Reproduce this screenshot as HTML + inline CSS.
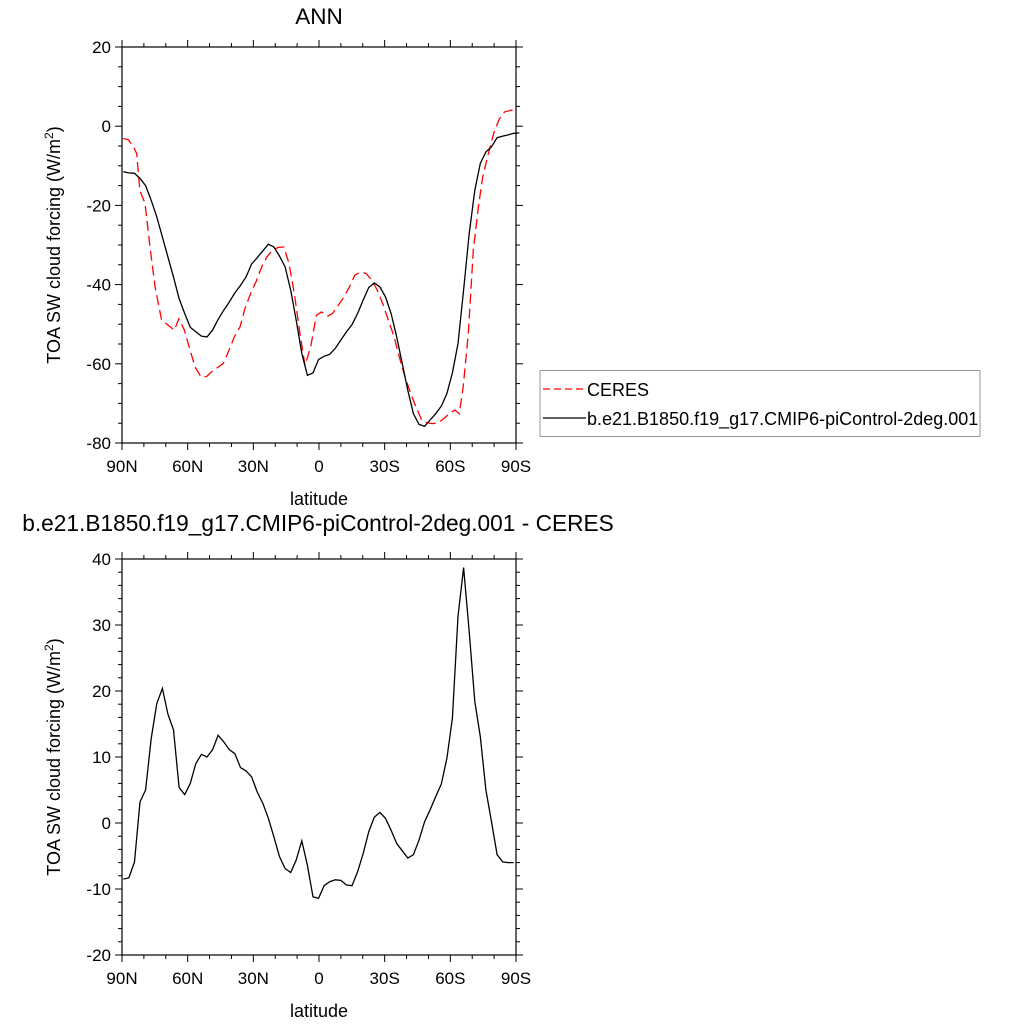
<!DOCTYPE html>
<html><head><meta charset="utf-8">
<style>
html,body{margin:0;padding:0;background:#fff;}
svg{display:block;font-family:"Liberation Sans",sans-serif;}
</style></head>
<body>
<svg id="chart" width="1024" height="1024" viewBox="0 0 1024 1024" xmlns="http://www.w3.org/2000/svg">
<text x="319" y="24" font-size="22.5" text-anchor="middle">ANN</text>
<text x="318" y="531" font-size="22.7" text-anchor="middle">b.e21.B1850.f19_g17.CMIP6-piControl-2deg.001 - CERES</text>
<g id="top"></g>
<g id="bot"></g>
<g>
<rect x="540" y="370.5" width="440" height="66" fill="#fff" stroke="#999" stroke-width="1"/>
<line x1="543" y1="389" x2="586" y2="389" stroke="#f00" stroke-width="1.3" stroke-dasharray="7,4"/>
<text x="587" y="396" font-size="18">CERES</text>
<line x1="543" y1="418" x2="586" y2="418" stroke="#000" stroke-width="1.3"/>
<text x="587" y="425" font-size="18">b.e21.B1850.f19_g17.CMIP6-piControl-2deg.001</text>
</g>
</svg>
<script>
const modelVals = [-11.5,-11.8,-11.9,-13.2,-15.0,-18.7,-22.9,-28.0,-33.0,-38.1,-43.5,-47.3,-50.8,-51.9,-53.0,-53.2,-51.5,-48.8,-46.5,-44.4,-42.1,-40.2,-38.1,-34.8,-33.2,-31.5,-29.8,-30.5,-32.8,-35.5,-41.4,-49.0,-57.4,-62.9,-62.3,-58.9,-58.1,
-57.6,-56.1,-54.0,-51.9,-50.1,-47.3,-43.9,-40.7,-39.6,-40.6,-43.1,-47.3,-53.2,-59.9,-66.7,-72.6,-75.3,-75.8,-74.2,-72.6,-70.7,-67.5,-62.3,-54.9,-41.4,-27.1,-16.2,-9.4,-6.5,-5.2,-2.9,-2.5,-2.2,-1.8,-1.7];
const diffVals = [-8.5,-8.3,-5.9,3.2,5.0,12.8,18.1,20.4,16.5,14.1,5.4,4.3,6.0,9.0,10.4,10.0,11.1,13.3,12.3,11.1,10.5,8.4,7.9,7.0,4.7,3.0,0.7,-2.1,-5.1,-6.9,-7.5,-5.6,-2.7,-6.4,-11.2,-11.4,-9.5,-8.9,-8.6,-8.7,-9.4,-9.5,-7.4,-4.6,-1.3,0.9,1.6,0.7,-1.1,-3.1,-4.2,-5.3,-4.8,-2.6,0.2,2.0,4.0,5.9,9.8,15.9,31.3,38.7,29.0,18.4,13.1,5.0,0.2,-4.8,-5.9,-6.0,-6.0];
const ceresLats = [89.4,87.1,84.8,83.3,81.8,79.5,77.2,74.9,71.9,68.8,66.1,64.0,61.5,58.9,56.6,53.9,51.3,49.0,46.0,43.7,41.1,38.7,36.1,33.8,31.2,28.8,26.2,23.8,21.2,18.6,16.0,13.7,11.3,8.7,6.4,3.8,1.2,-1.2,
-3.8,-6.2,-8.8,-11.4,-13.9,-16.4,-19.0,-21.5,-24.1,-26.6,-29.1,-31.7,-34.3,-36.7,-39.3,-41.9,-44.3,-46.9,-49.3,-51.9,-54.5,-57.1,-59.5,-62.1,-64.1,-65.9,-68.2,-70.5,-72.8,-74.8,-77.4,-79.8,-82.4,-84.8,-87.4,-89.5];
const ceresVals = [-3.1,-3.4,-5.2,-6.9,-16.2,-19.5,-30.5,-40.6,-49.0,-50.3,-51.5,-48.6,-51.5,-56.6,-60.8,-63.3,-63.2,-62.0,-60.8,-59.9,-56.6,-53.2,-50.7,-46.0,-42.2,-39.3,-35.5,-33.0,-31.3,-30.6,-30.5,-34.7,-42.2,-52.4,-60.4,-55.7,-47.7,-46.9,
-48.0,-47.3,-45.2,-43.1,-40.6,-37.6,-36.8,-37.2,-38.9,-41.4,-44.8,-49.0,-53.2,-58.3,-63.3,-67.5,-70.9,-74.2,-74.9,-75.1,-74.9,-73.8,-72.6,-71.7,-72.6,-65.8,-52.4,-31.3,-20.4,-12.8,-6.9,-1.8,1.9,3.6,4.0,4.2];
const xTickLats = [90,60,30,0,-30,-60,-90];
const xTickLabels = ["90N","60N","30N","0","30S","60S","90S"];
const topYTicks = [20,0,-20,-40,-60,-80];
const botYTicks = [40,30,20,10,0,-10,-20];

const NS="http://www.w3.org/2000/svg";
function mk(parent,tag,attrs){const e=document.createElementNS(NS,tag);for(const k in attrs)e.setAttribute(k,attrs[k]);parent.appendChild(e);return e;}
const L=122,R=516;
function xs(lat){return L+(90-lat)*(R-L)/180;}
function modelLat(i){return 89.4-i*178.4/70;}

function panel(g,top,bot,ymax,ymin,majStep,minStep,prefix){
  const ys=v=>top+(ymax-v)*(bot-top)/(ymax-ymin);
  const f=mk(g,'rect',{x:L,y:top,width:R-L,height:bot-top,fill:'none',stroke:'#000','stroke-width':1.2});
  
  
  for(let lat=90;lat>=-90;lat-=10){
    const maj=lat%30===0, len=maj?7:4, x=xs(lat);
    const t1=mk(g,'line',{x1:x,y1:bot,x2:x,y2:bot+len,stroke:'#000','stroke-width':1});
    
    
    const t2=mk(g,'line',{x1:x,y1:top,x2:x,y2:top-len,stroke:'#000','stroke-width':1});
    
    
  }
  for(let v=ymin;v<=ymax+1e-9;v+=minStep){
    const maj=Math.abs(v%majStep)<1e-6, len=maj?7:4, y=ys(v);
    const a=mk(g,'line',{x1:L,y1:y,x2:L-len,y2:y,stroke:'#000','stroke-width':1});
    
    
    const b=mk(g,'line',{x1:R,y1:y,x2:R+len,y2:y,stroke:'#000','stroke-width':1});
    
    
  }
  xTickLats.forEach((lat,i)=>{
    const t=mk(g,'text',{x:xs(lat),y:bot+29,'font-size':17,'text-anchor':'middle'});
    t.textContent=xTickLabels[i];
    
    
  });
  const yt=(prefix==='top'?topYTicks:botYTicks);
  yt.forEach(v=>{
    const t=mk(g,'text',{x:L-11,y:ys(v)+6,'font-size':17,'text-anchor':'end'});
    t.textContent=String(v);
    
    
  });
  const xl=mk(g,'text',{x:(L+R)/2,y:bot+62,'font-size':18,'text-anchor':'middle'});
  xl.textContent='latitude';
  
  
  const cy=(top+bot)/2;
  const yl=mk(g,'text',{x:0,y:0,'font-size':18,'text-anchor':'middle',transform:`translate(60,${cy}) rotate(-90)`});
  yl.innerHTML='TOA SW cloud forcing (W/m<tspan dy="-7" font-size="12">2</tspan><tspan dy="7">)</tspan>';
  
  
  return ys;
}

const gt=document.getElementById('top');
const ysT=panel(gt,47,443,20,-80,20,5,'top');
const ceresPts=ceresLats.map((la,i)=>xs(la).toFixed(1)+','+ysT(ceresVals[i]).toFixed(1)).join(' ');
const cl=mk(gt,'polyline',{points:ceresPts,fill:'none',stroke:'#f00','stroke-width':1.3,'stroke-dasharray':'10,5'});


const modelPts=modelVals.map((v,i)=>xs(modelLat(i)).toFixed(1)+','+ysT(v).toFixed(1)).join(' ');
const ml=mk(gt,'polyline',{points:modelPts,fill:'none',stroke:'#000','stroke-width':1.3});



const gb=document.getElementById('bot');
const ysB=panel(gb,559,955,40,-20,10,2,'bottom');
const diffPts=diffVals.map((v,i)=>xs(modelLat(i)).toFixed(1)+','+ysB(v).toFixed(1)).join(' ');
const dl=mk(gb,'polyline',{points:diffPts,fill:'none',stroke:'#000','stroke-width':1.3});


</script>
</body></html>
